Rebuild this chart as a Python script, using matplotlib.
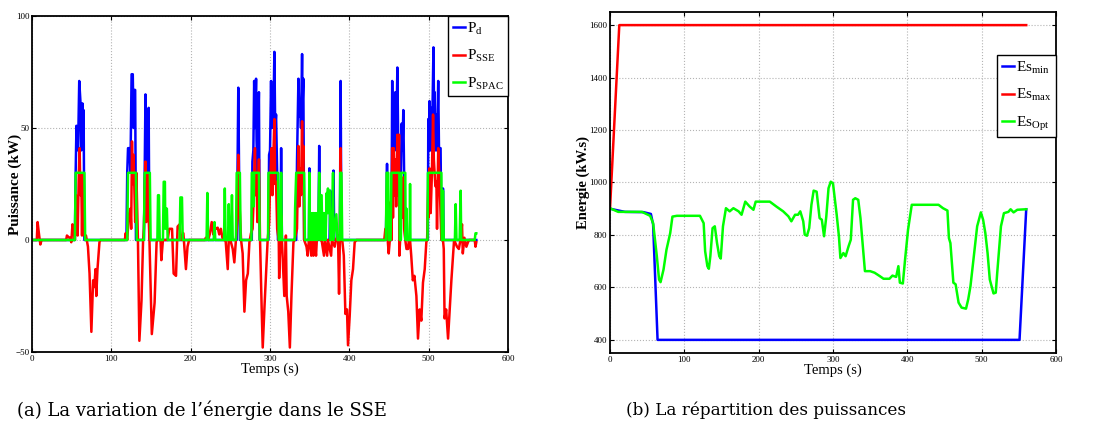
import matplotlib
matplotlib.use('Agg')
import matplotlib.pyplot as plt

# ---------------- data (a): powers, kW ----------------
t_pd = [0, 54, 55, 56, 58, 59.5, 61, 62, 63.5, 64, 65, 66,
        119, 120, 121, 123, 124, 125.5, 127, 128, 128.5, 130, 131,
        141, 142, 143, 144, 145, 146, 147, 148,
        258, 259, 260, 261, 262,
        277, 277.8, 279, 280, 281, 282.4, 283, 284, 286, 287,
        298, 298.8, 300, 301.3, 302, 303.4, 304, 305.5, 306.5, 307.6, 309, 310,
        313, 314, 315,
        333, 334, 335.8, 337, 338, 339, 340.4, 341, 342, 343,
        349, 349.6, 350, 361, 362, 363, 375, 376, 377, 379, 380, 381,
        388, 389, 390,
        446, 447.5, 448.5, 453, 454, 455, 456, 457, 458, 459, 460.5, 462, 465, 466,
        467, 468, 469, 470.5,
        499, 499.5, 500, 501, 502, 503, 504, 506, 507, 507.5, 508.5, 509.7, 510.5,
        512, 513, 514, 515, 516, 517.5, 518, 519, 560]
p_d = [0, 0, 30, 51, 40, 71, 62, 40, 61, 45, 58, 0,
       0, 30, 41, 41, 30, 74, 74, 50, 67, 67, 0,
       0, 30, 65, 35, 44, 30, 59, 0,
       0, 30, 68, 30, 0,
       0, 35, 40, 71, 50, 72, 45, 30, 66, 0,
       0, 38, 40, 71, 50, 65, 50, 84, 50, 56, 30, 0,
       0, 41, 0,
       0, 35, 72, 55, 62, 50, 83, 60, 72, 0,
       0, 32, 0, 0, 42, 0, 0, 22, 0, 0, 31, 0,
       0, 71, 0,
       0, 34, 0, 0, 71, 40, 41, 45, 66, 40, 77, 30, 30, 52,
       40, 58, 30, 0,
       0, 54, 40, 62, 40, 59, 40, 86, 50, 66, 40, 56, 40,
       71, 40, 41, 41, 0, 0, 23, 0, 0]

t_sse = [0, 6, 7, 9, 10.5, 12, 43, 44, 47, 48, 49.5, 51, 52, 53, 54, 55.5, 57.5,
         59, 60, 61, 62, 63, 64, 65, 66, 68, 70.5, 72.5, 74.8, 77, 78.5, 80, 81,
         82.5, 85, 86,
         117, 118, 120, 122, 124, 125, 126, 127, 128, 130, 131.5, 133.5, 135.3,
         138, 140, 141, 143, 144, 146, 147, 148, 151, 154.5, 157, 158, 162, 163,
         165, 171, 173, 176.5, 178.5, 181.5, 183.5, 186, 188, 190.8, 192, 194,
         196, 198,
         218, 219, 222, 224, 226.5, 228.5, 230, 232, 234, 236, 238, 240, 242,
         244, 246.7, 248, 250, 253, 255, 257, 259, 260, 261, 263.5, 265.5, 267.7,
         269.8, 272, 274, 276, 278, 279, 281, 282, 283, 284, 286, 287.4, 289.5,
         290.8, 293, 295, 297, 299, 300, 302, 303, 304, 305.5, 306.5, 307.6, 309,
         311, 311.5, 313, 314, 315, 318, 320, 321, 323, 325, 327, 329.5, 331,
         334, 335.8, 337, 338, 339, 340.4, 341, 342, 343, 346, 347.5, 349, 350,
         352, 353, 354.7, 356, 358, 359, 362, 363, 365, 368, 369, 372, 373, 377,
         378, 381.5, 383, 385.7, 387, 388, 389, 390, 391, 393, 395, 397, 398.3,
         400.4, 402.5, 404.6, 406.7, 409,
         444, 445.4, 447.5, 449.6, 451, 452, 453, 454, 455, 456, 457, 458, 459,
         460.5, 461.5, 462.6, 463, 464, 466, 467, 468, 469, 470.5, 472, 474, 475,
         476.5, 478, 480, 482, 484.5, 486.5, 488.6, 490.7, 492.8, 495, 497, 498,
         499.5, 500, 501, 502.5, 504, 505.5, 506.5, 508.4, 509.7, 510.5, 512,
         514, 515, 516, 518, 519, 520, 522, 524.4, 526.5, 528.6, 530.7, 532,
         535.7, 538, 540, 542, 543, 545, 547.5, 549.5, 551, 558, 559, 560]
p_sse = [0, 0, 8, 2, -2, 0, 0, 2, 1, 1, -1, 7, 6, 5, 0, 20, 2,
         30, 41, 20, 29, 2, 29, 10, 2, 2, -3, -15, -41, -18, -21, -13, -25,
         -13, -1, 0,
         0, 3, 0, 11, 14, 5, 44, 25, 38, 8, 30, 0, -45,
         -27, 0, 5, 35, 8, 29, 11, 0, -42, -28, -1, 0, 0, -9,
         0, 0, 5, 5, -15, -16, 6, 7, 0, 3, -3, -13,
         -3, 0,
         0, 1, 0, 2.5, 8, 2.5, 6, 5, 5.5, 2.5, 5, 1, 0,
         0, -13, 0, 0, -4, -10, 0, 10, 38, 20, 0, -6, -32,
         -18, -15, -1, 3, 5, 15, 41, 20, 30, 8, 36, 0, -31,
         -48, -30, -15, 0, 8, 25, 41, 20, 35, 54, 25, 26, 5,
         0, -17, 0, 11, 0, -25, 2, -25, -32, -48, -25, -1, 0,
         5, 42, 15, 32, 20, 53, 30, 42, 0, -3, -7, 0, 2,
         -7, 0, -7, 0, -7, 0, 12, 0, 0, -7, 0, -7, 0, -7,
         0, -3, 0, 2, -24, 0, 41, 0, 0, -7, -33, -31, -47,
         -34, -18, -13, -1, 0,
         0, 5, 4, -6, 0, 17, 0, 41, 10, 41, 20, 36, 15,
         47, 20, 47, -7, 0, 22, 10, 28, 5, 0, -4, -4, 0,
         0, -7, -18, -16, -25, -44, -31, -36, -19, -13, -1, 0,
         24, 10, 32, 12, 29, 56, 36, 24, 26, 5, 41,
         23, 11, 0, 0, -4, -35, -31, -44, -31, -18, -7, 0,
         -3, -4, 0, 7, -6, 1, -3, -1, 0, 0, -3, -1]

t_spac = [0, 54, 55, 66, 67, 120, 121, 131, 132, 141, 142, 148.5, 149.5, 158,
          158.8, 160, 161, 165, 166, 167.5, 168, 169, 170, 171, 186, 187, 189,
          190,
          220, 221, 222, 229, 230, 231, 242, 243, 244, 247, 248, 249, 251, 252,
          253, 257, 258, 262, 263, 276.5, 277, 279, 279.5, 280, 286, 287, 297.5,
          298, 310, 311, 313, 314, 315, 331, 331.6, 333, 343, 344, 349, 349.6,
          350, 351, 352, 353, 354, 355, 356, 357, 358, 359, 360, 361, 362, 363,
          364, 365, 366, 367, 368, 369, 370, 371.5, 372, 373, 374, 375, 376, 377,
          378, 379.4, 380, 383.6, 385, 388, 388.5, 390, 391,
          446, 447, 449, 449.5, 452, 453, 463, 463.5, 465, 465.5, 470.5, 471,
          472, 473, 476, 476.5, 477, 498.5, 499, 516, 516.5, 517.5, 518, 519,
          533, 534, 535, 539, 540.3, 541, 558, 559, 560]
p_spac = [0, 0, 30, 30, 0, 0, 30, 30, 0, 0, 30, 30, 0, 0,
          20, 20, 0, 0, 26, 26, 5, 14, 14, 0, 0, 19, 19,
          0,
          0, 21, 0, 0, 8, 0, 0, 23, 0, 0, 16, 0, 0, 20,
          0, 0, 30, 30, 0, 0, 30, 30, 15, 30, 30, 0, 0,
          30, 30, 0, 0, 30, 0, 0, 14, 30, 30, 0, 0, 30,
          0, 12, 0, 12, 0, 12, 0, 12, 0, 12, 0, 12, 30, 0,
          20, 20, 0, 12, 0, 12, 0, 21, 12, 23, 12, 22, 0, 12,
          0, 30, 0, 11.5, 0, 0, 30, 30, 0,
          0, 30, 30, 0, 0, 30, 30, 0, 0, 30, 30, 0,
          14, 0, 0, 25, 0, 0, 30, 30, 0, 0, 22, 0,
          0, 16, 0, 0, 22, 0, 0, 3, 3]

# ---------------- data (b): energy, kW.s ----------------
t_esmin = [0, 20, 45, 55, 58, 64, 551, 560]
es_min = [900, 888, 887, 880, 840, 400, 400, 898]
t_esmax = [0, 12.5, 560]
es_max = [900, 1600, 1600]
t_esopt = [0, 7, 11, 43, 54, 58, 60, 63, 66, 68, 72, 76, 81, 84, 90, 121, 126,
           128, 131, 133, 135, 138, 141, 144, 147, 149, 152, 156, 161, 166, 173,
           177, 182, 188, 193, 196, 215, 224, 233, 240, 244, 249, 253, 256, 260,
           262, 265, 268, 271, 274, 278, 282, 285, 288, 291, 294, 297, 300, 305,
           308, 310, 314, 317, 321, 324, 327, 330, 334, 337, 343, 350, 356, 363,
           368, 376, 380, 385, 388, 390, 394, 397, 401, 406, 442, 448, 454, 456,
           458, 462, 465, 469, 473, 479, 482, 485, 489, 494, 499, 502, 505, 508,
           511, 516, 519, 521, 526, 530, 536, 539, 543, 548, 560]
es_opt = [902, 893, 888, 888, 873, 845, 795, 719, 630, 620, 668, 744, 807, 870,
          873, 873, 845, 738, 681, 671, 719, 826, 833, 769, 719, 710, 833, 902,
          890, 902, 890, 877, 927, 908, 896, 927, 927, 908, 890, 871, 852, 877,
          877, 890, 852, 801, 797, 826, 915, 969, 965, 864, 858, 795, 870, 978,
          1003, 997, 877, 795, 712, 731, 719, 757, 782, 934, 940, 934, 864, 662,
          662, 656, 643, 633, 633, 645, 640, 681, 618, 615, 706, 820, 915, 915,
          902, 893, 788, 769, 618, 612, 542, 523, 519, 555, 605, 706, 833, 886,
          858, 807, 731, 630, 577, 580, 656, 833, 883, 888, 898, 886, 896, 898]

plt.rcParams['font.family'] = ['Liberation Serif', 'DejaVu Serif']
plt.rcParams['mathtext.default'] = 'regular'

fig = plt.figure(figsize=(10.93, 4.30), dpi=100)
ax1 = fig.add_axes([0.0293, 0.1814, 0.4355, 0.7814])
ax2 = fig.add_axes([0.5581, 0.1791, 0.4080, 0.7930])

LW = 1.8


def style(ax):
    ax.grid(True, color='#b4b4b4', linestyle=':', linewidth=0.8)
    ax.tick_params(direction='in', labelsize=6.5, length=3, width=0.8,
                   top=True, right=True, pad=2)
    for s in ax.spines.values():
        s.set_linewidth(1.3)
    ax.set_xlim(0, 600)
    ax.set_xticks(range(0, 601, 100))


def legend(ax, anchor):
    leg = ax.legend(loc='upper right', bbox_to_anchor=anchor, borderaxespad=0,
                    fontsize=11, handlelength=0.8, handletextpad=0.1,
                    labelspacing=0.75, fancybox=False, framealpha=1,
                    edgecolor='black', borderpad=0.3)
    leg.get_frame().set_linewidth(1.0)


# ---- (a) ----
ax1.plot(t_pd, p_d, color='#0000ff', lw=LW, label='$P_d$')
ax1.plot(t_sse, p_sse, color='#ff0000', lw=LW, label='$P_{SSE}$')
ax1.plot(t_spac, p_spac, color='#00ff00', lw=LW, label='$P_{SPAC}$')
style(ax1)
ax1.set_ylim(-50, 100)
ax1.set_yticks([-50, 0, 50, 100])
ax1.set_xlabel('Temps (s)', fontsize=10.5, labelpad=0)
ax1.set_ylabel('Puissance (kW)', fontsize=11, fontweight='bold')
ax1.yaxis.set_label_coords(-0.036, 0.5)
ax1.yaxis.label.set_va('center')
legend(ax1, (1.0, 1.0))

# ---- (b) ----
ax2.plot(t_esmin, es_min, color='#0000ff', lw=LW, label='$Es_{min}$')
ax2.plot(t_esmax, es_max, color='#ff0000', lw=LW, label='$Es_{max}$')
ax2.plot(t_esopt, es_opt, color='#00ff00', lw=LW, label='$Es_{Opt}$')
style(ax2)
ax2.set_ylim(350, 1650)
ax2.set_yticks(range(400, 1601, 200))
ax2.set_xlabel('Temps (s)', fontsize=10.5, labelpad=0)
ax2.set_ylabel('Energie (kW.s)', fontsize=10.5, fontweight='bold')
ax2.yaxis.set_label_coords(-0.06, 0.5)
ax2.yaxis.label.set_va('center')
legend(ax2, (1.0, 0.874))

# captions
fig.text(0.185, 0.047, "(a) La variation de l\u2019énergie dans le SSE",
         ha='center', va='center', fontsize=13, family='DejaVu Serif')
fig.text(0.701, 0.047, "(b) La répartition des puissances",
         ha='center', va='center', fontsize=12.1, family='DejaVu Serif')

fig.savefig('out.png', dpi=100, facecolor='white')
plt.close()
